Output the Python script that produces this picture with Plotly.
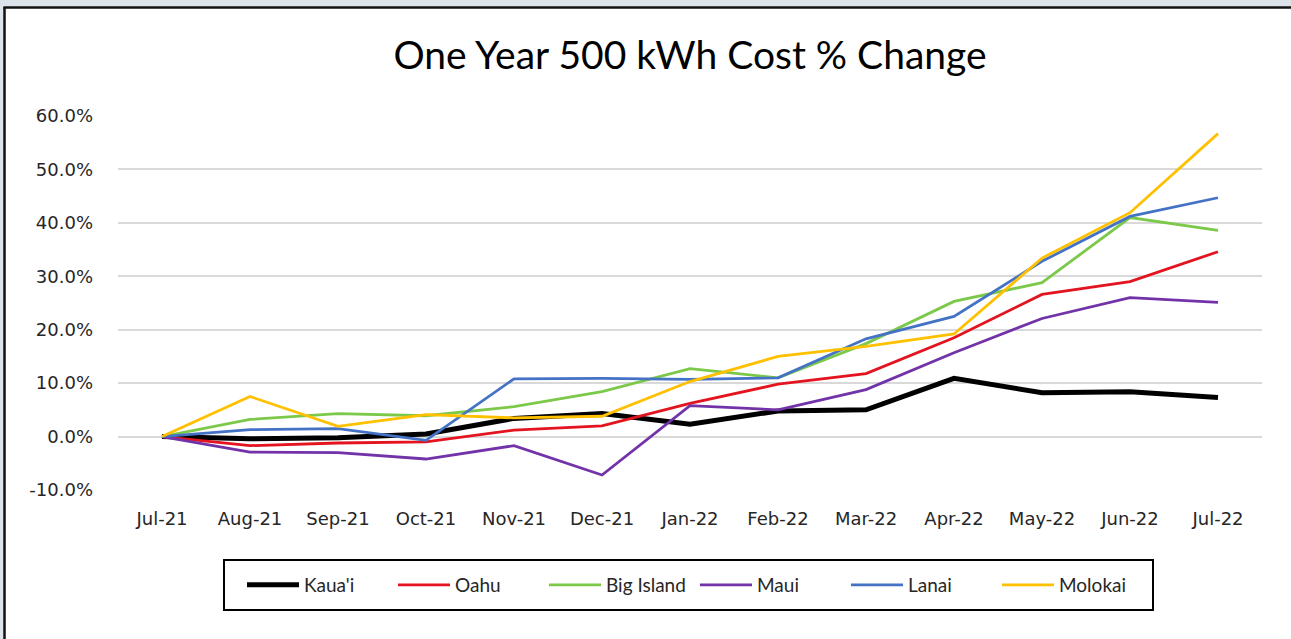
import plotly.graph_objects as go

months = ["Jul-21", "Aug-21", "Sep-21", "Oct-21", "Nov-21", "Dec-21", "Jan-22",
          "Feb-22", "Mar-22", "Apr-22", "May-22", "Jun-22", "Jul-22"]

kauai = [0.0, -0.4, -0.2, 0.5, 3.4, 4.3, 2.3, 4.8, 5.0, 10.9, 8.2, 8.4, 7.3]
oahu = [0.0, -1.7, -1.2, -1.0, 1.2, 2.0, 6.2, 9.8, 11.8, 18.5, 26.6, 29.0, 34.6]
big_island = [0.0, 3.2, 4.3, 3.9, 5.6, 8.4, 12.7, 11.0, 17.4, 25.3, 28.8, 41.0, 38.6]
maui = [0.0, -2.9, -3.0, -4.2, -1.7, -7.2, 5.8, 5.0, 8.8, 15.7, 22.1, 26.0, 25.1]
lanai = [0.0, 1.3, 1.5, -0.7, 10.8, 10.9, 10.7, 11.0, 18.3, 22.5, 32.8, 41.2, 44.7]
molokai = [0.0, 7.5, 1.9, 4.1, 3.5, 3.8, 10.3, 15.0, 16.9, 19.2, 33.4, 41.9, 56.7]

series = [
    ("Kaua'i", kauai, "#000000", 5),
    ("Oahu", oahu, "#e3141f", 2.8),
    ("Big Island", big_island, "#7cc94a", 2.8),
    ("Maui", maui, "#7233a8", 2.8),
    ("Lanai", lanai, "#4472c4", 2.8),
    ("Molokai", molokai, "#ffc000", 2.8),
]

W, H = 1291, 639
L, R, T, B = 118, 29, 116, 149
PW, PH = W - L - R, H - T - B


def px(x):
    return (x - L) / PW


def py(y):
    return (H - B - y) / PH


fig = go.Figure()
for name, vals, color, width in series:
    fig.add_trace(go.Scatter(
        x=months, y=vals, name=name, mode="lines",
        line=dict(color=color, width=width),
    ))

title_font = "Lato, 'Noto Sans', sans-serif"
tick_font = "'DejaVu Sans', sans-serif"

fig.update_layout(
    width=W, height=H,
    margin=dict(l=L, r=R, t=T, b=B),
    paper_bgcolor="white",
    plot_bgcolor="white",
    font=dict(family=title_font, size=17, color="#262626"),
    title=dict(
        text="One Year 500 kWh Cost % Change",
        x=px(690), xref="paper", xanchor="center",
        y=1 - 55 / H, yref="container", yanchor="middle",
        font=dict(family=title_font, size=39, color="#000000"),
    ),
    xaxis=dict(
        type="category",
        range=[-0.5, 12.5],
        showgrid=False, zeroline=False, showline=False,
        ticks="", ticklabelstandoff=16,
        tickfont=dict(family=tick_font, size=18, color="#262626"),
    ),
    yaxis=dict(
        range=[-10, 60],
        tickvals=[-10, 0, 10, 20, 30, 40, 50, 60],
        ticktext=["-10.0%", "0.0%", "10.0%", "20.0%", "30.0%", "40.0%", "50.0%", "60.0%"],
        showgrid=True, gridcolor="#d9d9d9", gridwidth=1.5,
        zeroline=False, showline=False, ticks="",
        ticklabelstandoff=24,
        tickfont=dict(family=tick_font, size=18, color="#262626"),
    ),
    legend=dict(
        orientation="h",
        x=px(242), xanchor="left",
        y=py(585), yanchor="middle",
        borderwidth=0, bgcolor="rgba(0,0,0,0)",
        font=dict(family=title_font, size=19, color="#262626"),
        itemwidth=52,
        entrywidth=84, entrywidthmode="pixels",
    ),
    shapes=[
        dict(type="rect", xref="paper", yref="paper",
             x0=px(0), x1=px(W), y0=py(0), y1=py(6.5),
             fillcolor="#dde3eb", line=dict(width=0), layer="below"),
        dict(type="rect", xref="paper", yref="paper",
             x0=px(0), x1=px(3.5), y0=py(0), y1=py(H),
             fillcolor="#dde3eb", line=dict(width=0), layer="below"),
        dict(type="line", xref="paper", yref="paper",
             x0=px(3.5), x1=px(W), y0=py(7.5), y1=py(7.5),
             line=dict(color="#111111", width=2.5)),
        dict(type="line", xref="paper", yref="paper",
             x0=px(4.5), x1=px(4.5), y0=py(7), y1=py(H),
             line=dict(color="#111111", width=2.5)),
        dict(type="rect", xref="paper", yref="paper",
             x0=px(224), x1=px(1153), y0=py(560), y1=py(610),
             fillcolor="rgba(0,0,0,0)", line=dict(color="#000000", width=2)),
    ],
)

fig.write_html(
    "out.html",
    config={"displayModeBar": False},
    post_script="document.body.style.margin='0';document.body.style.overflow='hidden';",
)
